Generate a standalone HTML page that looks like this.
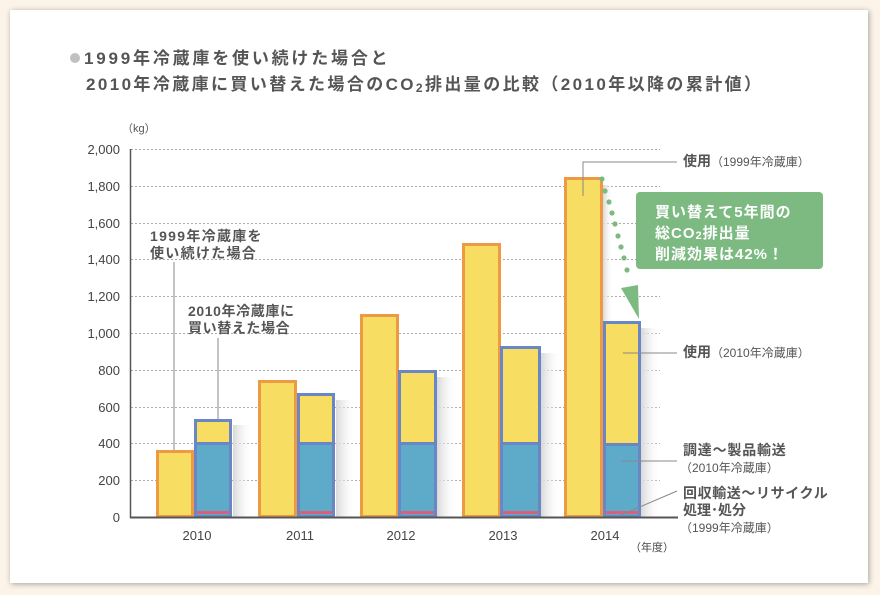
<!DOCTYPE html>
<html><head><meta charset="utf-8"><style>
html,body{margin:0;padding:0;background:#fcf4e8;}
svg{display:block;font-family:"Liberation Sans","Noto Sans CJK JP",sans-serif;}
</style></head><body>
<svg width="880" height="595" viewBox="0 0 880 595">
<defs>
<linearGradient id="sh" x1="0" x2="1" y1="0" y2="0"><stop offset="0" stop-color="#d8d8d8"/><stop offset="1" stop-color="#fff" stop-opacity="0"/></linearGradient>
<filter id="ps" x="-5%" y="-5%" width="110%" height="110%"><feDropShadow dx="1" dy="1" stdDeviation="3" flood-color="#000" flood-opacity="0.35"/></filter>
</defs>
<rect width="880" height="595" fill="#fcf4e8"/>
<rect x="10" y="10" width="858" height="573" fill="#fff" filter="url(#ps)"/>
<circle cx="75" cy="58" r="5" fill="#c0c0c0"/>
<text x="84" y="64" font-size="17" font-weight="bold" fill="#555" letter-spacing="2.8">1999年冷蔵庫を使い続けた場合と</text>
<text x="86" y="90" font-size="17" font-weight="bold" fill="#555" letter-spacing="2.4">2010年冷蔵庫に買い替えた場合のCO<tspan font-size="12" dy="2">2</tspan><tspan dy="-2">排出量の比較（2010年以降の累計値）</tspan></text>
<text x="122" y="132" font-size="11" fill="#555">（kg）</text>
<g stroke="#aaa" stroke-dasharray="2,2" stroke-width="1">
<line x1="131" y1="149.5" x2="660" y2="149.5"/><line x1="131" y1="186.5" x2="660" y2="186.5"/>
<line x1="131" y1="223.5" x2="660" y2="223.5"/><line x1="131" y1="259.5" x2="660" y2="259.5"/>
<line x1="131" y1="296.5" x2="660" y2="296.5"/><line x1="131" y1="333.5" x2="660" y2="333.5"/>
<line x1="131" y1="370.5" x2="660" y2="370.5"/><line x1="131" y1="407.5" x2="660" y2="407.5"/>
<line x1="131" y1="443.5" x2="660" y2="443.5"/><line x1="131" y1="480.5" x2="660" y2="480.5"/>
</g>
<g font-size="13" fill="#444" text-anchor="end">
<text x="120" y="154">2,000</text><text x="120" y="191">1,800</text><text x="120" y="228">1,600</text>
<text x="120" y="264">1,400</text><text x="120" y="301">1,200</text><text x="120" y="338">1,000</text>
<text x="120" y="375">800</text><text x="120" y="412">600</text><text x="120" y="448">400</text>
<text x="120" y="485">200</text><text x="120" y="522">0</text>
</g>
<g fill="url(#sh)">
<rect x="233" y="425" width="20" height="92"/><rect x="336" y="400" width="20" height="117"/>
<rect x="437" y="377" width="20" height="140"/><rect x="541" y="353" width="20" height="164"/>
<rect x="641" y="328" width="20" height="189"/><rect x="603" y="185" width="10" height="140"/>
</g>
<g stroke-width="3">
<rect x="157.5" y="451.5" width="35" height="65" fill="#f7dd62" stroke="#ee9a45"/>
<rect x="195.5" y="420.5" width="35" height="96" fill="#f7dd62" stroke="#6b86c5"/>
<rect x="195.5" y="443.5" width="35" height="73" fill="#5eabc9" stroke="#6b86c5"/>
<rect x="259.5" y="381.5" width="36" height="135" fill="#f7dd62" stroke="#ee9a45"/>
<rect x="298.5" y="394.5" width="35" height="122" fill="#f7dd62" stroke="#6b86c5"/>
<rect x="298.5" y="443.5" width="35" height="73" fill="#5eabc9" stroke="#6b86c5"/>
<rect x="361.5" y="315.5" width="36" height="201" fill="#f7dd62" stroke="#ee9a45"/>
<rect x="399.5" y="371.5" width="36" height="145" fill="#f7dd62" stroke="#6b86c5"/>
<rect x="399.5" y="443.5" width="36" height="73" fill="#5eabc9" stroke="#6b86c5"/>
<rect x="463.5" y="244.5" width="36" height="272" fill="#f7dd62" stroke="#ee9a45"/>
<rect x="501.5" y="347.5" width="38" height="169" fill="#f7dd62" stroke="#6b86c5"/>
<rect x="501.5" y="443.5" width="38" height="73" fill="#5eabc9" stroke="#6b86c5"/>
<rect x="565.5" y="178.5" width="36" height="338" fill="#f7dd62" stroke="#ee9a45"/>
<rect x="604.5" y="322.5" width="35" height="194" fill="#f7dd62" stroke="#6b86c5"/>
<rect x="604.5" y="444.5" width="35" height="72" fill="#5eabc9" stroke="#6b86c5"/>
</g>
<g fill="#d9607a">
<rect x="197" y="511" width="32" height="3"/><rect x="300" y="511" width="32" height="3"/>
<rect x="401" y="511" width="33" height="3"/><rect x="503" y="511" width="35" height="3"/><rect x="606" y="511" width="32" height="3"/>
</g>
<line x1="130.5" y1="149" x2="130.5" y2="518" stroke="#555" stroke-width="1.5"/>
<line x1="130" y1="517.5" x2="678" y2="517.5" stroke="#555" stroke-width="2"/>
<g font-size="13" fill="#444" text-anchor="middle">
<text x="197" y="540">2010</text><text x="300" y="540">2011</text><text x="401" y="540">2012</text>
<text x="503" y="540">2013</text><text x="605" y="540">2014</text>
</g>
<text x="630" y="551" font-size="11" fill="#444">（年度）</text>
<g stroke="#888" stroke-width="1" fill="none">
<polyline points="174,450 174,262"/>
<polyline points="218,420 218,338"/>
<polyline points="583,196 583,162 677,162"/>
<line x1="623" y1="353" x2="677" y2="353"/>
<line x1="621" y1="461" x2="677" y2="461"/>
<line x1="621" y1="515" x2="677" y2="491"/>
</g>
<g font-size="14" font-weight="bold" fill="#555">
<text x="150" y="241" letter-spacing="1.3">1999年冷蔵庫を</text><text x="150" y="258" letter-spacing="1.3">使い続けた場合</text>
<text x="188" y="316" letter-spacing="0.6">2010年冷蔵庫に</text><text x="188" y="333" letter-spacing="0.6">買い替えた場合</text>
<text x="683" y="166">使用<tspan font-size="12" font-weight="normal">（1999年冷蔵庫）</tspan></text>
<text x="683" y="357">使用<tspan font-size="12" font-weight="normal">（2010年冷蔵庫）</tspan></text>
<text x="683" y="455" letter-spacing="0.8">調達～製品輸送</text>
<text x="683" y="498" letter-spacing="0.6">回収輸送～リサイクル</text>
<text x="683" y="515">処理･処分</text>
</g>
<g font-size="12" fill="#555">
<text x="680" y="472">（2010年冷蔵庫）</text>
<text x="680" y="532">（1999年冷蔵庫）</text>
</g>
<rect x="636" y="192" width="187" height="77" rx="4" fill="#7dba82"/>
<g font-size="15" font-weight="bold" fill="#fff" letter-spacing="1">
<text x="655" y="217">買い替えて5年間の</text>
<text x="655" y="238">総CO<tspan font-size="11" dy="1">2</tspan><tspan dy="-1">排出量</tspan></text>
<text x="655" y="259">削減効果は42%！</text>
</g>
<g fill="#7dba82">
<circle cx="602" cy="179" r="2.6"/><circle cx="605" cy="191" r="2.6"/><circle cx="609" cy="202" r="2.6"/>
<circle cx="612" cy="213" r="2.6"/><circle cx="615" cy="224" r="2.6"/><circle cx="618" cy="236" r="2.6"/>
<circle cx="621" cy="247" r="2.6"/><circle cx="624" cy="258" r="2.6"/><circle cx="627" cy="270" r="2.6"/>
<polygon points="621,288 638,285 639,319"/>
</g>
</svg>
</body></html>
